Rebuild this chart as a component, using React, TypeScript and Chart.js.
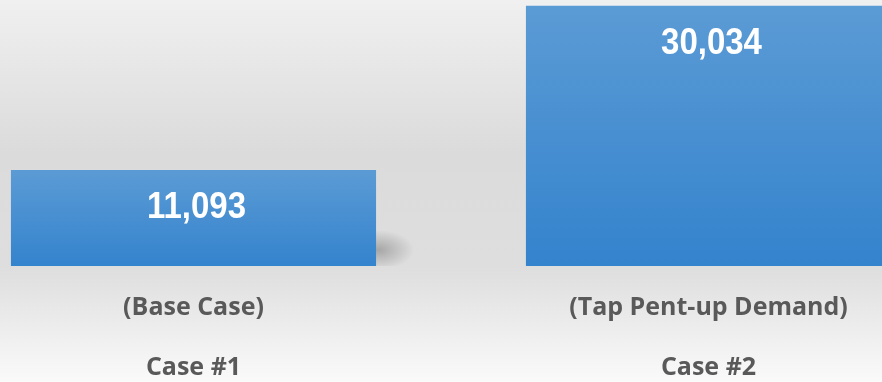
import { useEffect, useRef } from "react";
import { Chart, registerables } from "chart.js";

Chart.register(...registerables);

const categories: string[][] = [
  ["(Base Case)", "Case #1"],
  ["(Tap Pent-up Demand)", "Case #2"],
];
const values: number[] = [11093, 30034];
const yMin = 0;
const yMax = 30700;
const xMin = -0.3757;
const xMax = 1.3369;

const bgPlugin = {
  id: "bgGradient",
  beforeDraw(chart: any) {
    const { ctx, width, height } = chart;
    const g = ctx.createLinearGradient(0, 0, 0, height);
    g.addColorStop(0, "#f0f0f0");
    g.addColorStop(0.4, "#dbdbdb");
    g.addColorStop(0.7, "#dedede");
    g.addColorStop(1, "#fafafa");
    ctx.save();
    ctx.fillStyle = g;
    ctx.fillRect(0, 0, width, height);
    ctx.restore();
  },
};

const shadowPlugin = {
  id: "barShadow",
  beforeDatasetsDraw(chart: any) {
    const { ctx } = chart;
    const meta = chart.getDatasetMeta(0);
    meta.data.forEach((bar: any) => {
      const right = bar.x + bar.width / 2;
      const cy = bar.base - 16;
      ctx.save();
      ctx.beginPath();
      ctx.rect(0, 0, chart.width, bar.base);
      ctx.clip();
      ctx.translate(right + 2, cy);
      ctx.scale(1.8, 1);
      const g = ctx.createRadialGradient(0, 0, 0, 0, 0, 20);
      g.addColorStop(0, "rgba(0,0,0,0.25)");
      g.addColorStop(1, "rgba(0,0,0,0)");
      ctx.fillStyle = g;
      ctx.beginPath();
      ctx.arc(0, 0, 20, 0, Math.PI * 2);
      ctx.fill();
      ctx.restore();
    });
  },
};

const labelPlugin = {
  id: "barLabels",
  afterDatasetsDraw(chart: any) {
    const { ctx } = chart;
    const meta = chart.getDatasetMeta(0);
    ctx.save();
    ctx.font = 'bold 33px "Liberation Sans", Arial, sans-serif';
    ctx.fillStyle = "#ffffff";
    ctx.textAlign = "center";
    ctx.textBaseline = "middle";
    meta.data.forEach((bar: any, i: number) => {
      ctx.save();
      ctx.translate(bar.x + 3, bar.y + 38);
      ctx.scale(1, 1.12);
      ctx.fillText(values[i].toLocaleString("en-US"), 0, 0);
      ctx.restore();
    });
    ctx.restore();
  },
};

export default function App() {
  const ref = useRef<HTMLCanvasElement | null>(null);

  useEffect(() => {
    document.body.style.margin = "0";
    const canvas = ref.current;
    if (!canvas) return;
    const chart = new Chart(canvas, {
      type: "bar",
      data: {
        datasets: [
          {
            data: values.map((v, i) => ({ x: i, y: v })),
            backgroundColor: (c: any) => {
              const chartRef = c.chart;
              const y = chartRef.scales && chartRef.scales.y;
              if (!y || c.raw == null) return "#4a90d2";
              const top = y.getPixelForValue(c.raw.y);
              const base = y.getPixelForValue(0);
              if (!isFinite(top) || !isFinite(base) || top === base) return "#4a90d2";
              const g = chartRef.ctx.createLinearGradient(0, top, 0, base);
              g.addColorStop(0, "#5b9bd5");
              g.addColorStop(1, "#3483cd");
              return g;
            },
            borderWidth: 0,
            categoryPercentage: 1,
            barPercentage: 0.709,
          },
        ],
      },
      options: {
        responsive: false,
        animation: false,
        layout: { padding: 0 },
        plugins: {
          legend: { display: false },
          tooltip: { enabled: false },
        },
        scales: {
          x: {
            type: "linear",
            min: xMin,
            max: xMax,
            offset: false,
            grid: { display: false },
            border: { display: false },
            afterBuildTicks: (axis: any) => {
              axis.ticks = categories.map((_, i) => ({ value: i }));
            },
            afterFit: (axis: any) => {
              axis.height = 116;
            },
            ticks: {
              autoSkip: false,
              maxRotation: 0,
              minRotation: 0,
              padding: 4,
              color: "#595959",
              font: { family: '"Open Sans", sans-serif', weight: "bold", size: 25, lineHeight: "60px" },
              callback: (value: any) => {
                const idx = Math.round(Number(value));
                return Math.abs(Number(value) - idx) < 1e-6 && categories[idx] ? categories[idx] : "";
              },
            },
          },
          y: {
            display: false,
            min: yMin,
            max: yMax,
          },
        },
      } as any,
      plugins: [bgPlugin, shadowPlugin, labelPlugin],
    });
    return () => chart.destroy();
  }, []);

  return (
    <div style={{ width: 882, height: 382 }}>
      <canvas ref={ref} width={882} height={382} />
    </div>
  );
}
